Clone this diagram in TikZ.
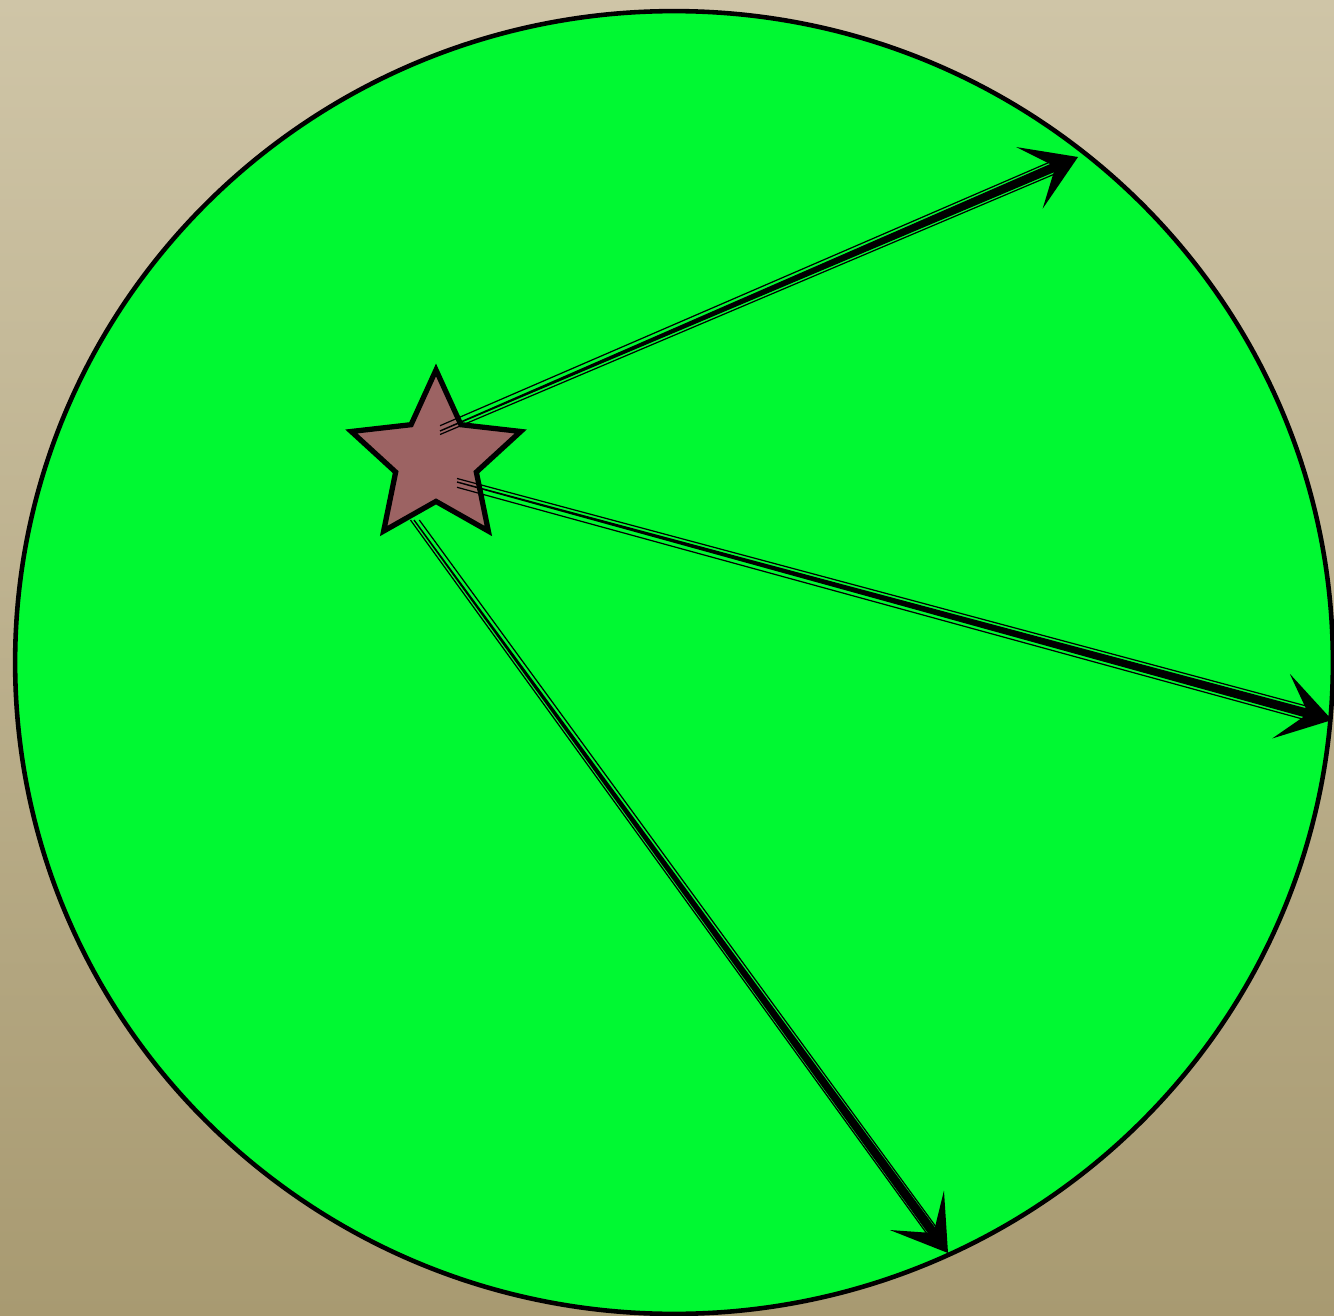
\documentclass[tikz,border=0pt]{standalone}
\usetikzlibrary{shapes.geometric,arrows.meta,calc}
\definecolor{paperTop}{HTML}{CFC5A7}
\definecolor{paperBot}{HTML}{A89A71}
\definecolor{disc}{HTML}{00F932}
\definecolor{starfill}{HTML}{9C6363}
\begin{document}
\begin{tikzpicture}[x=0.01cm,y=-0.01cm]
\tikzstyle{ring}=[ellipse,draw,line width=1.3pt,fill=disc,minimum width=13.17cm,minimum height=13.02cm,inner sep=0pt]
\tikzstyle{source}=[star,star points=5,star point ratio=2.1,draw,line width=1.5pt,fill=starfill,minimum size=1.78cm,inner sep=0pt]
\tikzstyle{ray}=[line width=1.2pt,-{Stealth[length=15pt,width=19pt,inset=8pt,line width=1pt]}]
\tikzstyle{hair}=[line width=0.35pt]
\fill[top color=paperTop,bottom color=paperBot] (0,0) rectangle (1334,1316);
\useasboundingbox (0,0) rectangle (1334,1316);
\node[ring] (R) at (674,662.5) {};
\node[source] (S) at (436,459) {};
\coordinate (a1) at (440,431);
\coordinate (t1) at (1078,157);
\coordinate (a2) at (457,482);
\coordinate (t2) at (1332,720);
\coordinate (a3) at (414,520);
\coordinate (t3) at (948,1253);
\coordinate (e1) at ($(t1)!0.22cm!(a1)$);
\coordinate (e2) at ($(t2)!0.22cm!(a2)$);
\coordinate (e3) at ($(t3)!0.22cm!(a3)$);
% first ray
\fill ($(a1)!0.2pt!90:(t1)$) -- ($(e1)!1.3pt!-90:(a1)$) -- ($(e1)!1.3pt!90:(a1)$) -- ($(a1)!0.2pt!-90:(t1)$) -- cycle;
\draw[hair] ([yshift=1.5]a1) -- ([yshift=2]e1);
\draw[hair] ([yshift=-1]a1) -- ([yshift=-2]e1);
\draw[ray] (e1) -- (t1);
% second ray
\fill ($(a2)!0.2pt!90:(t2)$) -- ($(e2)!1.3pt!-90:(a2)$) -- ($(e2)!1.3pt!90:(a2)$) -- ($(a2)!0.2pt!-90:(t2)$) -- cycle;
\draw[hair] ([yshift=-1.5]a2) -- ([yshift=-2]e2);
\draw[hair] ([yshift=1]a2) -- ([yshift=2]e2);
\draw[ray] (e2) -- (t2);
% third ray
\fill ($(a3)!0.2pt!90:(t3)$) -- ($(e3)!1.3pt!-90:(a3)$) -- ($(e3)!1.3pt!90:(a3)$) -- ($(a3)!0.2pt!-90:(t3)$) -- cycle;
\draw[hair] ([xshift=1.5]a3) -- ([xshift=2]e3);
\draw[hair] ([xshift=-1]a3) -- ([xshift=-2]e3);
\draw[ray] (e3) -- (t3);
\end{tikzpicture}
\end{document}
